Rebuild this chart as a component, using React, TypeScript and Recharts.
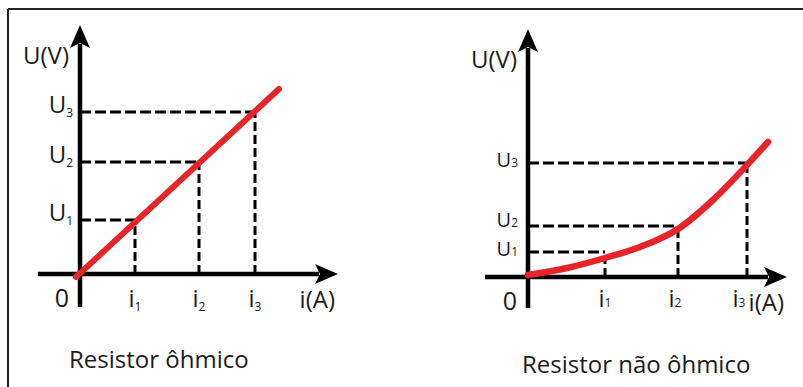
import React from 'react';
import { LineChart, Line, XAxis, YAxis, ReferenceLine, ReferenceDot } from 'recharts';

// Resistor ôhmico: straight line, values in arbitrary units (1 unit ≈ 10 px)
const ohmicCurrent = [-0.4, 19.9];
const ohmicVoltage = [-0.3, 18.5];
const ohmicTicksI = [5.5, 11.9, 17.5];
const ohmicTicksU = [5.4, 11.2, 16.2];

// Resistor não ôhmico: curve
const nonOhmicCurrent = [0, 3.9, 7.7, 11.2, 15.0, 18.5, 21.9, 24.0];
const nonOhmicVoltage = [0.2, 0.9, 1.9, 3.0, 4.8, 7.7, 11.2, 13.5];
const nonOhmicTicksI = [7.7, 15.0, 21.9];
const nonOhmicTicksU = [2.5, 5.1, 11.4];
const nonOhmicDropTops = [1.9, 4.8, 11.0];

const tickSubs = ['1', '2', '3'];

const FONT = '"Open Sans", "Noto Sans", sans-serif';
const INK = '#1c1c1c';
const RED = '#e5252a';

type ChartProps = {
  current: number[];
  voltage: number[];
  ticksI: number[];
  ticksU: number[];
  dropTops: number[];
  xDomain: [number, number];
  yDomain: [number, number];
  width: number;
  margin: { top: number; right: number; bottom: number; left: number };
  curveType: 'linear' | 'monotone';
  redWidth: number;
  subDy: number;
  uSize: number;
  uLabelGap: number;
  uLabelDy: number[];
  iLabelShift: number[];
  iLabelDy: number;
};

const arrowShape = (dir: 'x' | 'y', label: string) => (p: any) => {
  const { x1, y1, x2, y2 } = p;
  const head =
    dir === 'x'
      ? `${x2},${y2} ${x2 - 23},${y2 - 10} ${x2 - 18},${y2} ${x2 - 23},${y2 + 10}`
      : `${x2},${y2} ${x2 - 10},${y2 + 23} ${x2},${y2 + 18} ${x2 + 10},${y2 + 23}`;
  const ex = dir === 'x' ? x2 - 19 : x2;
  const ey = dir === 'x' ? y2 : y2 + 19;
  return (
    <g>
      <line x1={x1} y1={y1} x2={ex} y2={ey} stroke="#000" strokeWidth={4.5} />
      <polygon points={head} fill="#000" />
      {dir === 'x' ? (
        <text x={x2 - 3} y={y2 + 34} textAnchor="end" fontSize={24} fill={INK} fontFamily={FONT}>
          {label}
        </text>
      ) : (
        <text x={x2 - 11} y={y2 + 39} textAnchor="end" fontSize={24} fill={INK} fontFamily={FONT}>
          {label}
        </text>
      )}
    </g>
  );
};

function IVChart(props: ChartProps) {
  const data = props.current.map((i, k) => ({ i, u: props.voltage[k] }));
  const [x0, x1] = props.xDomain;
  const [y0, y1] = props.yDomain;
  return (
    <LineChart width={props.width} height={387} data={data} margin={props.margin}>
      <XAxis dataKey="i" type="number" domain={props.xDomain} allowDataOverflow hide />
      <YAxis type="number" domain={props.yDomain} allowDataOverflow hide />

      {props.ticksI.map((v, k) => (
        <ReferenceLine
          key={`h${k}`}
          segment={[{ x: 0, y: props.ticksU[k] }, { x: v, y: props.ticksU[k] }]}
          stroke="#000"
          strokeWidth={3}
          strokeDasharray="11 4"
        />
      ))}
      {props.ticksI.map((v, k) => (
        <ReferenceLine
          key={`v${k}`}
          segment={[{ x: v, y: 0 }, { x: v, y: props.dropTops[k] }]}
          stroke="#000"
          strokeWidth={3}
          strokeDasharray="9 4"
        />
      ))}

      <ReferenceLine segment={[{ x: x0, y: 0 }, { x: x1, y: 0 }]} shape={arrowShape('x', 'i(A)')} />
      <ReferenceLine segment={[{ x: 0, y: y0 }, { x: 0, y: y1 }]} shape={arrowShape('y', 'U(V)')} />

      <ReferenceDot
        x={0}
        y={0}
        r={0}
        shape={(p: any) => (
          <text x={p.cx - 11} y={p.cy + 33} textAnchor="end" fontSize={25} fill={INK} fontFamily={FONT}>
            0
          </text>
        )}
      />

      {props.ticksU.map((v, k) => (
        <ReferenceDot
          key={`ul${k}`}
          x={0}
          y={v}
          r={0}
          shape={(p: any) => (
            <text x={p.cx - props.uLabelGap} y={p.cy + props.uLabelDy[k]} textAnchor="end" fontSize={props.uSize} fill={INK} fontFamily={FONT}>
              U
              <tspan fontSize={12} dy={props.subDy}>
                {tickSubs[k]}
              </tspan>
            </text>
          )}
        />
      ))}
      {props.ticksI.map((v, k) => (
        <ReferenceDot
          key={`il${k}`}
          x={v}
          y={0}
          r={0}
          shape={(p: any) => (
            <text x={p.cx + props.iLabelShift[k]} y={p.cy + props.iLabelDy} textAnchor="middle" fontSize={24} fill={INK} fontFamily={FONT}>
              i
              <tspan fontSize={12} dy={props.subDy}>
                {tickSubs[k]}
              </tspan>
            </text>
          )}
        />
      ))}

      <Line
        dataKey="u"
        type={props.curveType}
        stroke={RED}
        strokeWidth={props.redWidth}
        strokeLinecap="round"
        dot={false}
        activeDot={false}
        isAnimationActive={false}
      />
    </LineChart>
  );
}

export default function App() {
  return (
    <div style={{ position: 'absolute', left: 0, top: 0, width: 803, height: 387, overflow: 'hidden', background: '#fff' }}>
      <svg width={803} height={387} style={{ position: 'absolute', left: 0, top: 0 }}>
        <line x1={8} y1={9} x2={803} y2={9} stroke="#222" strokeWidth={2} />
        <line x1={8} y1={9} x2={8} y2={387} stroke="#222" strokeWidth={2} />
        <text x={69} y={368} fontSize={24} fill={INK} fontFamily={FONT}>
          Resistor ôhmico
        </text>
        <text x={522} y={373} fontSize={24} fill={INK} fontFamily={FONT}>
          Resistor não ôhmico
        </text>
      </svg>
      <div style={{ position: 'absolute', left: 0, top: 0 }}>
        <IVChart
          current={ohmicCurrent}
          voltage={ohmicVoltage}
          ticksI={ohmicTicksI}
          ticksU={ohmicTicksU}
          dropTops={ohmicTicksU}
          xDomain={[-4.2, 25.8]}
          yDomain={[-3.3, 24.9]}
          width={400}
          margin={{ top: 25, right: 62, bottom: 80, left: 38 }}
          curveType="linear"
          redWidth={6}
          subDy={4}
          uSize={24}
          uLabelGap={7}
          uLabelDy={[1, 1, 1]}
          iLabelShift={[0, 0, 0]}
          iLabelDy={33}
        />
      </div>
      <div style={{ position: 'absolute', left: 400, top: 0 }}>
        <IVChart
          current={nonOhmicCurrent}
          voltage={nonOhmicVoltage}
          ticksI={nonOhmicTicksI}
          ticksU={nonOhmicTicksU}
          dropTops={nonOhmicDropTops}
          xDomain={[-4.3, 25.9]}
          yDomain={[-3.1, 24.8]}
          width={403}
          margin={{ top: 29, right: 16, bottom: 79, left: 85 }}
          curveType="monotone"
          redWidth={6.5}
          subDy={0}
          uSize={20}
          uLabelGap={10}
          uLabelDy={[4, 1, 4]}
          iLabelShift={[0, -3, -8]}
          iLabelDy={30}
        />
      </div>
    </div>
  );
}
